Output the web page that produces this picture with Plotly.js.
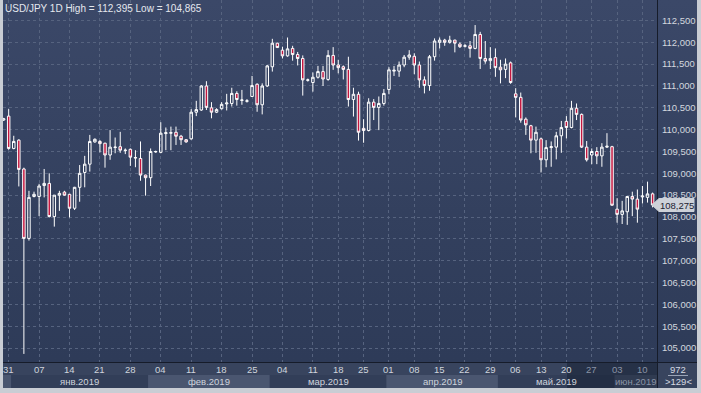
<!DOCTYPE html>
<html>
<head>
<meta charset="utf-8">
<script src="https://cdn.plot.ly/plotly-3.0.1.min.js"></script>
<style>
  html, body { margin:0; padding:0; background:#c9cdd4; }
  #wrap { position:relative; width:701px; height:393px; overflow:hidden; background:#c9cdd4; }
  #bg { position:absolute; left:3px; top:0; width:694px; height:388px;
        background:linear-gradient(to bottom, #3b4868 0%, #33405e 55%, #2d3a57 100%); }
  #chart { position:absolute; left:0; top:0; width:701px; height:393px; }
</style>
</head>
<body>
<div id="wrap"><div id="bg"></div><div id="chart"></div></div>
<script>
// ---- DATA (USD/JPY daily candles) ----
const open = [110.22,110.31,109.57,109.76,109.10,107.51,108.47,108.47,108.72,108.77,
108.01,108.50,108.57,108.52,108.20,108.68,109.02,109.21,109.72,109.73,
109.69,109.42,109.59,109.61,109.52,109.55,109.35,109.34,108.96,108.90,
109.49,109.48,109.91,109.92,109.94,109.85,109.77,109.79,110.40,110.45,
111.00,110.50,110.40,110.48,110.59,110.60,110.83,110.67,110.65,110.76,
111.04,110.57,111.00,111.44,111.98,111.82,111.69,111.86,111.72,111.63,
111.13,111.08,111.20,111.33,111.15,111.70,111.48,111.44,111.38,110.69,
110.81,110.03,109.98,110.63,110.51,110.60,110.92,111.34,111.34,111.48,
111.66,111.68,111.48,111.14,111.01,111.67,112.00,112.05,112.00,112.05,
111.96,111.91,111.92,111.86,112.18,111.63,111.58,111.65,111.43,111.38,
111.53,110.82,110.74,110.24,110.09,109.76,109.79,109.31,109.59,109.60,
109.86,110.19,110.05,110.49,110.35,109.60,109.42,109.50,109.40,109.60,
109.61,108.18,108.06,108.12,108.47,108.41,108.46,108.45,108.53];
const high = [110.27,110.47,109.86,109.78,109.13,108.60,108.58,108.76,109.10,109.00,
108.50,108.60,108.60,108.53,108.69,109.19,109.40,109.88,109.80,109.76,
109.70,109.99,109.82,109.95,109.57,109.57,109.53,109.73,108.97,109.57,
109.52,110.17,110.05,110.07,110.07,109.88,109.78,110.47,110.66,111.02,
111.11,110.63,110.49,110.63,110.82,110.96,110.88,110.91,110.70,111.23,
111.06,111.06,111.48,112.08,111.99,111.90,112.11,111.92,111.78,111.70,
111.17,111.31,111.46,111.46,111.82,111.89,111.60,111.47,111.67,110.96,
110.87,110.24,110.72,110.70,110.76,110.93,111.43,111.46,111.56,111.71,
111.82,111.75,111.56,111.22,111.71,112.09,112.11,112.08,112.15,112.06,
112.00,111.96,112.03,112.395,112.24,112.03,111.89,111.86,111.60,111.63,
111.56,110.95,110.85,110.28,110.11,110.07,109.82,109.76,109.73,109.95,
110.20,110.31,110.66,110.60,110.37,109.74,109.57,109.60,109.69,109.92,
109.63,108.43,108.37,108.47,108.58,108.63,108.71,108.81,108.56];
const low = [110.20,109.54,109.55,108.70,104.865,107.46,108.45,108.02,108.45,107.99,
107.78,108.14,108.49,107.99,108.16,108.35,108.68,109.04,109.70,109.48,
109.13,109.31,109.46,109.47,109.44,109.17,109.14,108.83,108.49,108.71,
109.47,109.46,109.53,109.53,109.65,109.65,109.70,109.77,110.31,110.43,
110.45,110.26,110.38,110.46,110.44,110.53,110.55,110.57,110.62,110.75,
110.41,110.35,110.98,111.33,111.87,111.63,111.67,111.58,111.47,110.78,
111.10,110.87,111.17,111.00,111.12,111.37,111.29,111.15,110.53,110.30,
109.75,109.70,109.96,110.22,109.99,110.55,110.81,111.23,111.21,111.43,
111.60,111.27,110.96,110.83,110.89,111.58,111.86,111.92,111.97,111.77,
111.87,111.88,111.65,111.84,111.39,111.51,111.39,111.21,111.06,111.18,
111.05,110.28,110.16,109.88,109.46,109.47,109.02,109.14,109.15,109.32,
109.47,109.80,110.03,110.22,109.58,109.27,109.21,109.21,109.15,109.58,
108.26,107.87,107.84,107.82,108.02,107.87,108.31,108.33,108.22];
const close = [110.25,109.57,109.73,109.09,107.51,108.45,108.52,108.71,108.77,108.01,
108.50,108.54,108.50,108.20,108.68,109.00,109.21,109.73,109.78,109.68,
109.42,109.60,109.60,109.53,109.53,109.37,109.36,108.96,108.90,109.50,
109.50,109.92,109.93,109.93,109.85,109.77,109.72,110.40,110.46,111.00,
110.51,110.40,110.46,110.58,110.61,110.83,110.69,110.68,110.66,111.01,
110.57,111.00,111.46,111.98,111.88,111.69,111.85,111.72,111.63,111.14,
111.14,111.20,111.33,111.16,111.70,111.48,111.42,111.38,110.69,110.81,
109.94,109.98,110.63,110.51,110.60,110.83,111.37,111.36,111.48,111.66,
111.71,111.48,111.14,111.01,111.67,112.03,112.05,112.00,112.05,111.98,
111.90,111.92,111.86,112.18,111.63,111.57,111.63,111.42,111.37,111.50,
111.08,110.74,110.22,110.11,109.76,109.94,109.31,109.59,109.61,109.86,
110.05,110.05,110.49,110.35,109.60,109.31,109.50,109.40,109.60,109.62,
108.27,108.06,108.14,108.47,108.41,108.18,108.48,108.53,108.275];

// x-axis: candle index of each Monday label, and its text
const tickIdx  = [1,7,13,19,25,31,37,43,49,55,61,66,71,76,81,86,91,96,101,106,111,116,121,126];
const tickText = ['31','07','14','21','28','04','11','18','25','04','11','18','25','01','08','15','22','29','06','13','20','27','03','10'];
// month bands: label and first-candle boundary (index)
const monthNames = ['янв.2019','фев.2019','мар.2019','апр.2019','май.2019','июн.2019'];
const monthStart = [1.5, 28.5, 52.5, 75.5, 97.5, 120.5];

const titleText = 'USD/JPY 1D High = 112,395 Low = 104,865';
const lastPrice = '108,275';
const footTop = '972';
const footBottom = '>129<';

// ---- LAYOUT GEOMETRY ----
const W = 701, H = 393;
const L = 3, R = 657, T = 0, B = 362;   // plot area in px
const pw = R - L, ph = B - T;
const xr = [-0.12, 128.87];
const yr = [104.68, 112.969];
const FONT = 'Liberation Sans, Arial, sans-serif';
const px = x => (x - L) / pw;          // pixel x -> paper
const py = y => (B - y) / ph;          // pixel y -> paper
const ix = i => (i - xr[0]) / (xr[1] - xr[0]); // index -> paper
const dimFrom = 113;                    // labels right of the scroll window are dimmed

const xs = open.map((_, i) => i);

const trace = {
  type: 'candlestick',
  x: xs, open: open, high: high, low: low, close: close,
  increasing: { line: { color: '#ffffff', width: 1 }, fillcolor: 'rgba(0,0,0,0)' },
  decreasing: { line: { color: '#ffffff', width: 1 }, fillcolor: '#c4163f' },
  whiskerwidth: 0,
  hoverinfo: 'skip',
  showlegend: false
};

const shapes = [];
const annotations = [];

// bottom strip base
shapes.push({ type:'rect', xref:'paper', yref:'paper', x0:px(3), x1:px(697), y0:py(388), y1:py(362),
  fillcolor:'#38445e', line:{width:0}, layer:'below' });
// month bands
const bandEdges = [xr[0]].concat(monthStart).concat([xr[1]]);
for (let k = 0; k < bandEdges.length - 1; k++) {
  const light = (k % 2 === 0);
  shapes.push({ type:'rect', xref:'paper', yref:'paper',
    x0: ix(bandEdges[k]), x1: ix(bandEdges[k+1]), y0: py(388), y1: py(375),
    fillcolor: light ? '#4a5670' : '#323e58', line:{width:0}, layer:'below' });
}
monthNames.forEach((m, k) => {
  const a = monthStart[k], b = (k + 1 < monthStart.length) ? monthStart[k+1] : xr[1];
  annotations.push({ xref:'paper', yref:'paper', x: ix((a + b) / 2), y: py(381.5),
    text: m, showarrow:false, xanchor:'center', yanchor:'middle',
    font:{ family:FONT, size:9.5, color: k === 5 ? '#8a93a6' : '#cfd4dd' } });
});
// day labels of the time strip
tickIdx.forEach((t, k) => {
  annotations.push({ xref:'paper', yref:'paper', x: ix(t), y: py(369.5),
    text: tickText[k], showarrow:false, xanchor:'center', yanchor:'middle',
    font:{ family:FONT, size:9.5, color: t >= dimFrom ? '#8a93a6' : '#cfd4dd' } });
});
// dim overlay on right part of the time strip
shapes.push({ type:'rect', xref:'paper', yref:'paper', x0:px(567), x1:px(657), y0:py(388), y1:py(362),
  fillcolor:'rgba(18,26,44,0.45)', line:{width:0}, layer:'above' });
// separators
shapes.push({ type:'line', xref:'paper', yref:'paper', x0:px(3), x1:px(697), y0:py(362.5), y1:py(362.5),
  line:{ color:'#161c2a', width:1 }, layer:'above' });
shapes.push({ type:'line', xref:'paper', yref:'paper', x0:px(657.5), x1:px(657.5), y0:py(388), y1:py(0),
  line:{ color:'#161c2a', width:1 }, layer:'above' });
// footer box text
shapes.push({ type:'line', xref:'paper', yref:'paper', x0:px(668), x1:px(688), y0:py(375.5), y1:py(375.5),
  line:{ color:'#9aa3b5', width:1 }, layer:'above' });
annotations.push({ xref:'paper', yref:'paper', x:px(678), y:py(369), text:footTop, showarrow:false,
  xanchor:'center', yanchor:'middle', font:{ family:FONT, size:9.5, color:'#d6dae2' } });
annotations.push({ xref:'paper', yref:'paper', x:px(678), y:py(381.5), text:footBottom, showarrow:false,
  xanchor:'center', yanchor:'middle', font:{ family:FONT, size:9.5, color:'#d6dae2' } });
// last price tag
const yTag = 20.5 + (112.5 - close[close.length - 1]) * 43.67;
const tTop = yTag - 6.5, tBot = yTag + 6.5;
shapes.push({ type:'path', xref:'paper', yref:'paper', layer:'above',
  path: 'M' + px(652) + ',' + py(yTag) + ' L' + px(659) + ',' + py(tTop) + ' L' + px(694) + ',' + py(tTop) +
        ' L' + px(694) + ',' + py(tBot) + ' L' + px(659) + ',' + py(tBot) + ' Z',
  fillcolor:'#cdd1d8', line:{ color:'#cdd1d8', width:1 } });
annotations.push({ xref:'paper', yref:'paper', x:px(676.5), y:py(yTag + 0.5), text:lastPrice, showarrow:false,
  xanchor:'center', yanchor:'middle', font:{ family:FONT, size:9.5, color:'#1c2130' } });

const layout = {
  width: W, height: H,
  margin: { l: L, r: W - R, t: T, b: H - B, pad: 0 },
  paper_bgcolor: 'rgba(0,0,0,0)',
  plot_bgcolor: 'rgba(0,0,0,0)',
  separators: ', ',
  showlegend: false,
  hovermode: false,
  dragmode: false,
  title: { text: titleText, x: 5 / W, xanchor: 'left', xref: 'container',
           y: 1 - 8 / H, yanchor: 'middle', yref: 'container',
           font: { family: FONT, size: 10, color: '#e4e7ee' } },
  xaxis: {
    range: xr, fixedrange: true,
    tickmode: 'array', tickvals: tickIdx, ticktext: tickText,
    showticklabels: false,
    showgrid: true, gridcolor: '#56637f', griddash: '3px,3px', gridwidth: 1,
    zeroline: false, showline: false, ticks: '',
    rangeslider: { visible: false }
  },
  yaxis: {
    side: 'right', range: yr, fixedrange: true,
    tickmode: 'linear', tick0: 105, dtick: 0.5, tickformat: '.3f',
    showgrid: true, gridcolor: '#56637f', griddash: '3px,3px', gridwidth: 1,
    zeroline: false, showline: false,
    ticks: 'outside', ticklen: 2, tickcolor: 'rgba(0,0,0,0)',
    tickfont: { family: FONT, size: 9.5, color: '#d3d7df' }
  },
  shapes: shapes,
  annotations: annotations
};

Plotly.newPlot('chart', [trace], layout, { staticPlot: true, displayModeBar: false });
</script>
</body>
</html>
